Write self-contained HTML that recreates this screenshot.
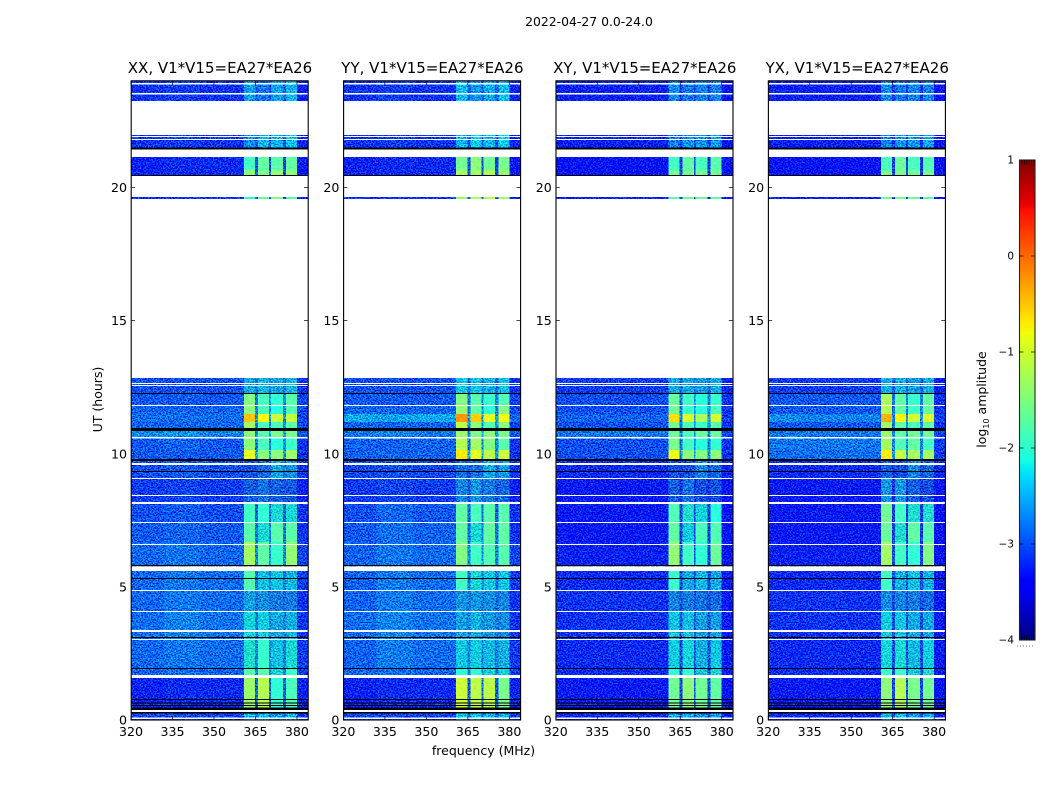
<!DOCTYPE html>
<html>
<head>
<meta charset="utf-8">
<title>Amplitude waterfall</title>
<style>
html,body{margin:0;padding:0;background:#fff;}
#chart{display:block;width:1050px;height:800px;}
text{font-family:"DejaVu Sans","Liberation Sans",sans-serif;fill:#000;}
</style>
</head>
<body>
<svg id="chart" xmlns="http://www.w3.org/2000/svg" width="1050" height="800" viewBox="0 0 1050 800">
<defs>
<filter id="speckle" x="0" y="0" width="100%" height="100%" color-interpolation-filters="sRGB">
<feTurbulence type="fractalNoise" baseFrequency="0.6 0.72" numOctaves="2" seed="7" result="raw"/>
<feColorMatrix in="raw" type="matrix" values="0.6 0 0 0 0.2  3 0 0 0 -1  1.6 0 0 0 -0.3  0 0 0 0 1" result="tint"/>
<feComposite in="SourceGraphic" in2="tint" operator="arithmetic" k1="0" k2="1" k3="0.62" k4="-0.31"/>
</filter>
<filter id="speckle-soft" x="0" y="0" width="100%" height="100%" color-interpolation-filters="sRGB">
<feTurbulence type="fractalNoise" baseFrequency="0.35 0.6" numOctaves="2" seed="11" result="raw"/>
<feColorMatrix in="raw" type="matrix" values="1.6 0 0 0 -0.3  1.6 0 0 0 -0.3  1.6 0 0 0 -0.3  0 0 0 0 1" result="tint"/>
<feComposite in="SourceGraphic" in2="tint" operator="arithmetic" k1="0" k2="1" k3="0.16" k4="-0.05"/>
</filter>
</defs>
<text x="589" y="26" font-size="12.4" text-anchor="middle">2022-04-27 0.0-24.0</text>
<text x="483.5" y="755" font-size="12.5" text-anchor="middle">frequency (MHz)</text>
<text transform="translate(102,399.5) rotate(-90)" font-size="12.5" text-anchor="middle">UT (hours)</text>
<text transform="translate(986,399.5) rotate(-90)" font-size="12.5" text-anchor="middle">log<tspan font-size="8" dy="3">10</tspan><tspan dy="-3"> amplitude</tspan></text>
<g id="panels"></g>
<g id="colorbar"></g>
</svg>
<script>
const panelTitles = ["XX, V1*V15=EA27*EA26", "YY, V1*V15=EA27*EA26", "XY, V1*V15=EA27*EA26", "YX, V1*V15=EA27*EA26"];
const freqTicks = [320, 335, 350, 365, 380];
const hourTicks = [0, 5, 10, 15, 20];
const colorbarTicks = [1, 0, -1, -2, -3, -4];
const freqEdgesMHz = [320, 332, 345, 360.8, 364.8, 365.9, 369.9, 370.6, 374.9, 376, 380, 384];
const rowTopHours = [24, 21.97, 21.15, 20.65, 19.64, 12.85, 12.24, 11.79, 11.49, 11.19, 10.85, 10.58, 10.14, 9.73, 9.05, 8.11, 7.40, 6.69, 5.60, 4.85, 4.06, 3.00, 1.92, 1.58, 0.30];
const rowBottomHours = [23.25, 21.48, 20.65, 20.43, 19.57, 12.24, 11.79, 11.49, 11.19, 10.97, 10.58, 10.14, 9.80, 9.05, 8.19, 7.44, 6.69, 5.78, 4.88, 4.09, 3.00, 1.95, 1.69, 0.45, 0];
const whiteGapHours = [[23.87,23.93],[23.49,23.55],[21.97,23.25],[21.90,21.93],[21.78,21.82],[21.15,21.43],[19.64,20.43],[12.85,19.57],[12.62,12.66],[12.55,12.58],[11.79,11.83],[10.58,10.63],[9.58,9.65],[9.05,9.09],[8.41,8.45],[8.11,8.19],[7.40,7.44],[6.57,6.61],[5.60,5.75],[4.85,4.88],[4.06,4.09],[3.31,3.38],[3.00,3.05],[1.58,1.69],[0.30,0.38],[0.04,0.09]];
const blackFlagHours = [[21.43,21.50],[20.43,20.47],[12.24,12.28],[10.85,10.97],[9.73,9.80],[9.31,9.35],[5.78,5.82],[5.30,5.33],[3.08,3.12],[1.92,1.95],[0.75,0.79],[0.62,0.66],[0.53,0.56],[0.38,0.47],[0.24,0.30]];
const xxLevels = [
[-3.15,-3.1,-3.15,-2.6,-2.95,-2.8,-3,-2.6,-2.95,-2.5,-3.25],
[-3.15,-3.1,-3.15,-2.7,-3,-2.5,-3,-2.5,-3,-2.4,-3.25],
[-3.25,-3.2,-3.2,-1.9,-3,-1.7,-3,-1.75,-3.1,-1.7,-3.3],
[-3.25,-3.2,-3.2,-1.45,-2.9,-1.55,-2.9,-1.4,-3,-1.45,-3.3],
[-3.15,-3.15,-3.15,-2.0,-3,-1.7,-2.9,-1.5,-3,-1.8,-3.25],
[-3.0,-3.0,-3.0,-2.5,-2.8,-2.4,-2.7,-2.5,-2.8,-2.4,-3.15],
[-2.95,-2.95,-2.95,-1.5,-2.8,-1.85,-2.6,-2.0,-2.7,-1.75,-3.05],
[-2.9,-2.9,-2.9,-1.45,-2.7,-1.85,-2.6,-2.05,-2.7,-1.8,-3.05],
[-2.85,-2.85,-2.85,-0.45,-2.6,-0.75,-2.5,-1.05,-2.6,-1.1,-3.05],
[-2.9,-2.9,-2.9,-1.35,-2.7,-1.85,-2.6,-1.85,-2.6,-1.75,-3.05],
[-2.7,-2.65,-2.75,-1.45,-2.6,-1.75,-2.5,-1.55,-2.5,-1.55,-2.95],
[-2.95,-2.9,-2.95,-1.45,-2.8,-1.85,-2.7,-2.05,-2.7,-1.95,-3.15],
[-2.95,-2.95,-2.95,-0.9,-2.5,-1.45,-2.5,-1.45,-2.6,-1.35,-3.15],
[-3.0,-2.95,-3.0,-3.0,-3,-2.85,-2.85,-2.5,-2.8,-2.6,-3.15],
[-3.1,-3.05,-3.1,-2.9,-3,-2.8,-3,-2.9,-3,-2.95,-3.25],
[-3.0,-2.95,-3.0,-1.9,-2.9,-2.0,-2.8,-2.15,-2.9,-2.15,-3.15],
[-2.95,-2.9,-2.95,-1.75,-2.8,-2.15,-2.7,-1.75,-2.8,-1.75,-3.15],
[-2.88,-2.82,-2.88,-1.3,-2.7,-1.7,-2.6,-1.95,-2.7,-1.4,-3.05],
[-2.88,-2.8,-2.85,-1.8,-2.8,-2.35,-2.7,-2.3,-2.8,-2.4,-3.1],
[-2.88,-2.8,-2.85,-2.55,-2.8,-2.65,-2.8,-2.75,-2.85,-2.75,-3.15],
[-2.85,-2.75,-2.82,-2.2,-2.75,-2.25,-2.7,-2.5,-2.75,-2.45,-3.15],
[-2.88,-2.8,-2.85,-2.1,-2.7,-1.95,-2.7,-2.35,-2.75,-2.15,-3.1],
[-2.9,-2.85,-2.9,-1.8,-2.7,-1.75,-2.6,-2.2,-2.7,-1.95,-3.1],
[-3.25,-3.2,-3.2,-1.35,-2.9,-1.2,-2.8,-2.0,-2.9,-1.85,-3.25],
[-3.05,-3.05,-3.05,-2.5,-2.9,-2.4,-2.9,-2.6,-2.9,-2.5,-3.15]
];
const yyLevels = [
[-3.15,-3.1,-3.15,-2.45,-2.95,-2.65,-3,-2.55,-2.95,-2.45,-3.25],
[-3.15,-3.1,-3.15,-2.5,-3,-2.35,-3,-2.45,-3,-2.35,-3.25],
[-3.25,-3.2,-3.2,-1.6,-3,-1.45,-3,-1.6,-3.1,-1.55,-3.3],
[-3.25,-3.2,-3.2,-1.3,-2.9,-1.3,-2.9,-1.25,-3,-1.35,-3.3],
[-3.15,-3.15,-3.15,-1.35,-3,-1.25,-2.9,-1.15,-3,-1.3,-3.25],
[-3.0,-3.0,-3.0,-2.3,-2.8,-2.3,-2.7,-2.45,-2.8,-2.35,-3.15],
[-2.95,-2.95,-2.95,-1.5,-2.8,-1.75,-2.6,-1.95,-2.7,-1.8,-3.05],
[-2.9,-2.9,-2.9,-1.4,-2.7,-1.7,-2.6,-2.0,-2.7,-1.5,-3.05],
[-2.55,-2.6,-2.55,-0.2,-2.5,-0.5,-2.5,-0.9,-2.5,-0.8,-2.85],
[-2.9,-2.9,-2.9,-1.15,-2.7,-1.45,-2.6,-1.75,-2.6,-1.45,-3.05],
[-2.8,-2.75,-2.8,-1.35,-2.6,-1.55,-2.5,-1.45,-2.5,-1.55,-2.95],
[-2.9,-2.9,-2.9,-1.2,-2.8,-1.3,-2.7,-1.5,-2.7,-1.75,-3.15],
[-2.9,-2.9,-2.9,-0.65,-2.5,-0.9,-2.5,-1.15,-2.6,-1.05,-3.15],
[-3.05,-3.0,-3.05,-2.8,-3,-2.8,-2.85,-2.5,-2.8,-2.55,-3.15],
[-3.1,-3.05,-3.1,-2.7,-3,-2.6,-3,-2.75,-3,-2.85,-3.25],
[-3.0,-2.88,-2.95,-1.7,-2.9,-1.85,-2.8,-1.75,-2.9,-1.75,-3.15],
[-2.95,-2.84,-2.9,-1.7,-2.8,-2.15,-2.7,-1.7,-2.8,-1.7,-3.15],
[-2.9,-2.8,-2.86,-1.5,-2.7,-1.9,-2.6,-1.8,-2.7,-1.75,-3.05],
[-2.9,-2.78,-2.85,-1.9,-2.8,-2.15,-2.7,-2.3,-2.8,-2.3,-3.1],
[-2.9,-2.78,-2.85,-2.6,-2.8,-2.6,-2.8,-2.65,-2.85,-2.7,-3.15],
[-2.85,-2.74,-2.82,-2.55,-2.75,-2.45,-2.7,-2.6,-2.75,-2.65,-3.15],
[-2.9,-2.78,-2.85,-2.3,-2.7,-2.25,-2.7,-2.4,-2.75,-2.45,-3.1],
[-2.9,-2.85,-2.9,-2.05,-2.7,-2.0,-2.6,-2.2,-2.7,-2.2,-3.1],
[-3.25,-3.2,-3.2,-1.05,-2.9,-1.15,-2.8,-1.15,-2.9,-1.55,-3.25],
[-3.05,-3.05,-3.05,-2.4,-2.9,-2.4,-2.9,-2.5,-2.9,-2.5,-3.15]
];
const xyLevels = [
[-3.25,-3.25,-3.25,-2.7,-3.1,-2.8,-3.1,-2.75,-3.1,-2.75,-3.35],
[-3.25,-3.25,-3.25,-2.75,-3.1,-2.65,-3.1,-2.65,-3.1,-2.6,-3.35],
[-3.35,-3.35,-3.35,-1.9,-3.1,-1.7,-3.1,-1.85,-3.2,-1.75,-3.35],
[-3.35,-3.35,-3.35,-1.6,-3.1,-1.6,-3,-1.6,-3.1,-1.6,-3.35],
[-3.25,-3.25,-3.25,-1.75,-3.1,-1.65,-3,-1.65,-3.1,-1.7,-3.35],
[-3.1,-3.1,-3.1,-2.5,-2.9,-2.5,-2.8,-2.55,-2.9,-2.45,-3.25],
[-3.0,-3.0,-3.0,-1.65,-2.8,-1.9,-2.7,-2.05,-2.7,-1.95,-3.15],
[-3.0,-3.0,-3.0,-1.6,-2.8,-1.95,-2.7,-2.05,-2.7,-1.85,-3.15],
[-2.9,-2.9,-2.9,-0.6,-2.7,-0.95,-2.6,-1.25,-2.6,-1.0,-3.1],
[-3.0,-3.0,-3.0,-1.55,-2.8,-1.85,-2.7,-1.95,-2.7,-1.75,-3.15],
[-2.8,-2.8,-2.8,-1.6,-2.7,-1.85,-2.6,-1.65,-2.6,-1.65,-3.05],
[-3.0,-3.0,-3.0,-1.55,-2.8,-1.9,-2.7,-2.05,-2.75,-2.0,-3.15],
[-3.0,-3.0,-3.0,-0.85,-2.6,-1.45,-2.6,-1.5,-2.65,-1.45,-3.15],
[-3.2,-3.2,-3.2,-3.0,-3.1,-3.0,-3,-2.7,-3,-2.85,-3.25],
[-3.3,-3.3,-3.3,-2.9,-3.2,-2.8,-3.15,-3.0,-3.15,-3.0,-3.35],
[-3.3,-3.3,-3.3,-1.8,-3.1,-2.1,-3.1,-2.2,-3.1,-2.05,-3.35],
[-3.3,-3.3,-3.3,-1.7,-3.1,-2.25,-3.1,-1.85,-3.1,-1.8,-3.35],
[-3.25,-3.25,-3.25,-1.4,-3.0,-1.9,-3.0,-2.0,-3.1,-1.65,-3.35],
[-3.2,-3.2,-3.2,-1.95,-3.0,-2.5,-3.0,-2.4,-3.05,-2.5,-3.3],
[-3.15,-3.15,-3.15,-2.7,-3.0,-2.75,-3.0,-2.8,-3.0,-2.85,-3.3],
[-3.15,-3.15,-3.15,-2.3,-3.0,-2.35,-3.0,-2.55,-3.0,-2.55,-3.3],
[-3.2,-3.2,-3.2,-2.25,-3.0,-2.2,-3.0,-2.45,-3.0,-2.3,-3.3],
[-3.2,-3.2,-3.2,-2.0,-3.0,-2.0,-2.9,-2.3,-3.0,-2.15,-3.3],
[-3.3,-3.3,-3.3,-1.6,-3.05,-1.45,-3.0,-1.6,-3.05,-1.7,-3.35],
[-3.2,-3.2,-3.2,-2.55,-3.05,-2.5,-3.05,-2.65,-3.05,-2.6,-3.25]
];
const yxLevels = [
[-3.25,-3.25,-3.25,-2.7,-3.1,-2.8,-3.1,-2.75,-3.1,-2.75,-3.35],
[-3.25,-3.25,-3.25,-2.75,-3.1,-2.65,-3.1,-2.65,-3.1,-2.6,-3.35],
[-3.35,-3.35,-3.35,-1.85,-3.1,-1.65,-3.1,-1.85,-3.2,-1.8,-3.35],
[-3.35,-3.35,-3.35,-1.55,-3.1,-1.55,-3,-1.6,-3.1,-1.6,-3.35],
[-3.25,-3.25,-3.25,-1.65,-3.1,-1.6,-3,-1.65,-3.1,-1.7,-3.35],
[-3.1,-3.1,-3.1,-2.45,-2.9,-2.45,-2.8,-2.55,-2.9,-2.45,-3.25],
[-2.95,-2.95,-2.95,-1.25,-2.8,-1.7,-2.7,-1.95,-2.7,-1.7,-3.15],
[-2.95,-2.95,-2.95,-1.2,-2.8,-1.7,-2.7,-1.9,-2.7,-1.65,-3.15],
[-2.7,-2.75,-2.75,-0.35,-2.7,-0.7,-2.6,-1.0,-2.6,-0.95,-3.05],
[-2.95,-2.95,-2.95,-1.3,-2.8,-1.7,-2.7,-1.85,-2.7,-1.7,-3.15],
[-2.8,-2.8,-2.8,-1.35,-2.7,-1.7,-2.6,-1.6,-2.6,-1.6,-3.05],
[-2.8,-2.8,-2.8,-1.3,-2.7,-1.8,-2.6,-1.7,-2.7,-1.9,-3.1],
[-2.85,-2.85,-2.85,-0.65,-2.6,-1.1,-2.6,-1.3,-2.65,-1.3,-3.1],
[-3.2,-3.2,-3.2,-2.9,-3.1,-3.0,-3,-2.7,-3,-2.85,-3.25],
[-3.3,-3.3,-3.3,-2.6,-3.2,-2.6,-3.15,-2.9,-3.15,-3.0,-3.35],
[-3.3,-3.3,-3.3,-1.6,-3.1,-1.9,-3.1,-2.1,-3.1,-2.1,-3.35],
[-3.3,-3.3,-3.3,-1.65,-3.1,-2.1,-3.1,-1.7,-3.1,-1.75,-3.35],
[-3.25,-3.25,-3.25,-1.3,-3.0,-1.9,-3.0,-2.0,-3.1,-1.5,-3.35],
[-3.2,-3.2,-3.2,-1.9,-3.0,-2.45,-3.0,-2.35,-3.05,-2.45,-3.3],
[-3.15,-3.15,-3.15,-2.65,-3.0,-2.7,-3.0,-2.75,-3.0,-2.85,-3.3],
[-3.15,-3.15,-3.15,-2.25,-3.0,-2.3,-3.0,-2.5,-3.0,-2.5,-3.3],
[-3.2,-3.2,-3.2,-2.2,-3.0,-2.15,-3.0,-2.4,-3.0,-2.25,-3.3],
[-3.2,-3.2,-3.2,-1.95,-3.0,-1.95,-2.9,-2.25,-3.0,-2.1,-3.3],
[-3.3,-3.3,-3.3,-1.45,-3.05,-1.2,-3.0,-1.55,-3.05,-1.6,-3.35],
[-3.2,-3.2,-3.2,-2.5,-3.05,-2.45,-3.05,-2.6,-3.05,-2.55,-3.25]
];
const panelLevels = [xxLevels, yyLevels, xyLevels, yxLevels];

const SVGNS = "http://www.w3.org/2000/svg";
const panelsGroup = document.getElementById("panels");
const colorbarGroup = document.getElementById("colorbar");

function makeNode(tag, parent, props) {
  const el = document.createElementNS(SVGNS, tag);
  for (const k in props) el.setAttribute(k, props[k]);
  parent.appendChild(el);
  return el;
}
function ramp(t, pts) {
  if (t <= pts[0][0]) return pts[0][1];
  for (let i = 1; i < pts.length; i++) {
    if (t <= pts[i][0]) {
      const a = pts[i - 1], b = pts[i];
      return a[1] + (b[1] - a[1]) * (t - a[0]) / (b[0] - a[0]);
    }
  }
  return pts[pts.length - 1][1];
}
function jet(v) {
  const t = Math.max(0, Math.min(1, (v + 4) / 5));
  const r = ramp(t, [[0, 0], [0.35, 0], [0.66, 1], [0.89, 1], [1, 0.5]]);
  const g = ramp(t, [[0, 0], [0.125, 0], [0.375, 1], [0.64, 1], [0.91, 0], [1, 0]]);
  const b = ramp(t, [[0, 0.5], [0.11, 1], [0.34, 1], [0.65, 0], [1, 0]]);
  return "rgb(" + Math.round(r * 255) + "," + Math.round(g * 255) + "," + Math.round(b * 255) + ")";
}
const plotTop = 81, plotBottom = 720, plotWidth = 177;
const strongSignalLevel = -2.1;
function panelLeft(i) { return 131 + i * 212.4; }
function xScale(mhz, i) { return panelLeft(i) + (mhz - 320) * plotWidth / 64; }
function yScale(hour) { return plotBottom - (hour / 24) * (plotBottom - plotTop); }
function cbY(v) { return 160 + (1 - v) * 96; }

panelTitles.forEach(function (title, p) {
  const g = makeNode("g", panelsGroup, {});
  
  
  const levels = panelLevels[p];
  const heat = makeNode("g", g, {"shape-rendering": "crispEdges", filter: "url(#speckle)"});
  
  
  const strong = makeNode("g", g, {"shape-rendering": "crispEdges", filter: "url(#speckle-soft)"});
  
  
  levels.forEach(function (row, r) {
    const y0 = yScale(rowTopHours[r]), y1 = yScale(rowBottomHours[r]);
    row.forEach(function (val, c) {
      const x0 = xScale(freqEdgesMHz[c], p), x1 = xScale(freqEdgesMHz[c + 1], p);
      const cell = makeNode("rect", val > strongSignalLevel ? strong : heat, {x: x0, y: y0, width: x1 - x0, height: y1 - y0, fill: jet(val)});
      
      
    });
  });
  const masks = makeNode("g", g, {"shape-rendering": "crispEdges"});
  
  
  whiteGapHours.forEach(function (gap) {
    const y0 = yScale(gap[1]), y1 = yScale(gap[0]);
    const band = makeNode("rect", masks, {x: panelLeft(p), y: y0, width: plotWidth, height: y1 - y0, fill: "#fff"});
    
    
  });
  blackFlagHours.forEach(function (gap) {
    const y0 = yScale(gap[1]), y1 = yScale(gap[0]);
    const band = makeNode("rect", masks, {x: panelLeft(p), y: y0, width: plotWidth, height: y1 - y0, fill: "#000"});
    
    
  });
  const frame = makeNode("rect", g, {x: panelLeft(p) + 0.2, y: plotTop - 0.2, width: plotWidth, height: plotBottom - plotTop + 0.2, fill: "none", stroke: "#000", "stroke-width": 1.1});
  
  
  const head = makeNode("text", g, {x: panelLeft(p) + plotWidth / 2 + 0.5, y: 73, "font-size": 15, "text-anchor": "middle"});
  head.textContent = title;
  
  
  freqTicks.forEach(function (f) {
    const x = xScale(f, p);
    [[plotBottom, plotBottom - 4], [plotTop, plotTop + 4]].forEach(function (s) {
      const tick = makeNode("line", g, {x1: x, x2: x, y1: s[0], y2: s[1], stroke: "#000", "stroke-width": 0.7});
      
      
    });
    const lab = makeNode("text", g, {x: x, y: 736, "font-size": 12.6, "text-anchor": "middle"});
    lab.textContent = f;
    
    
  });
  hourTicks.forEach(function (h) {
    const y = yScale(h);
    [[panelLeft(p), panelLeft(p) + 4], [panelLeft(p) + plotWidth, panelLeft(p) + plotWidth - 4]].forEach(function (s) {
      const tick = makeNode("line", g, {x1: s[0], x2: s[1], y1: y, y2: y, stroke: "#000", "stroke-width": 0.7});
      
      
    });
    const lab = makeNode("text", g, {x: panelLeft(p) - 4, y: y + 4.5, "font-size": 12.6, "text-anchor": "end"});
    lab.textContent = h;
    
    
  });
});

for (let k = 0; k < 240; k++) {
  const v = 1 - k * 5 / 240;
  const strip = makeNode("rect", colorbarGroup, {x: 1019.5, y: cbY(v), width: 15.5, height: 2.2, fill: jet(v - 5 / 480), "shape-rendering": "crispEdges"});
  
  
}
const cbFrame = makeNode("rect", colorbarGroup, {x: 1019.5, y: 160, width: 15.5, height: 480, fill: "none", stroke: "#222", "stroke-width": 1.1});


colorbarTicks.forEach(function (v) {
  const y = cbY(v);
  if (v < 1 && v > -4) {
    [[1019.5, 1023.5], [1035, 1031]].forEach(function (s) {
      const tick = makeNode("line", colorbarGroup, {x1: s[0], x2: s[1], y1: y, y2: y, stroke: "#000", "stroke-width": 0.7});
      
      
    });
  }
  const lab = makeNode("text", colorbarGroup, {x: 1014, y: y + 3.5, "font-size": 10.4, "text-anchor": "end"});
  lab.textContent = String(v).replace("-", "\u2212");
  
  
});
for (let n = 0; n < 6; n++) {
  const x = 1022 + n * 2.4;
  const topMark = makeNode("line", colorbarGroup, {x1: x, x2: x, y1: 160, y2: 164.5, stroke: "#000", "stroke-width": 0.6});
  
  
  const botMark = makeNode("line", colorbarGroup, {x1: x, x2: x, y1: 640, y2: 635.5, stroke: "#000", "stroke-width": 0.6});
  
  
}
const dots = makeNode("line", colorbarGroup, {x1: 1017, x2: 1035, y1: 646, y2: 646, stroke: "#777", "stroke-width": 1, "stroke-dasharray": "1 2"});


</script>
</body>
</html>
